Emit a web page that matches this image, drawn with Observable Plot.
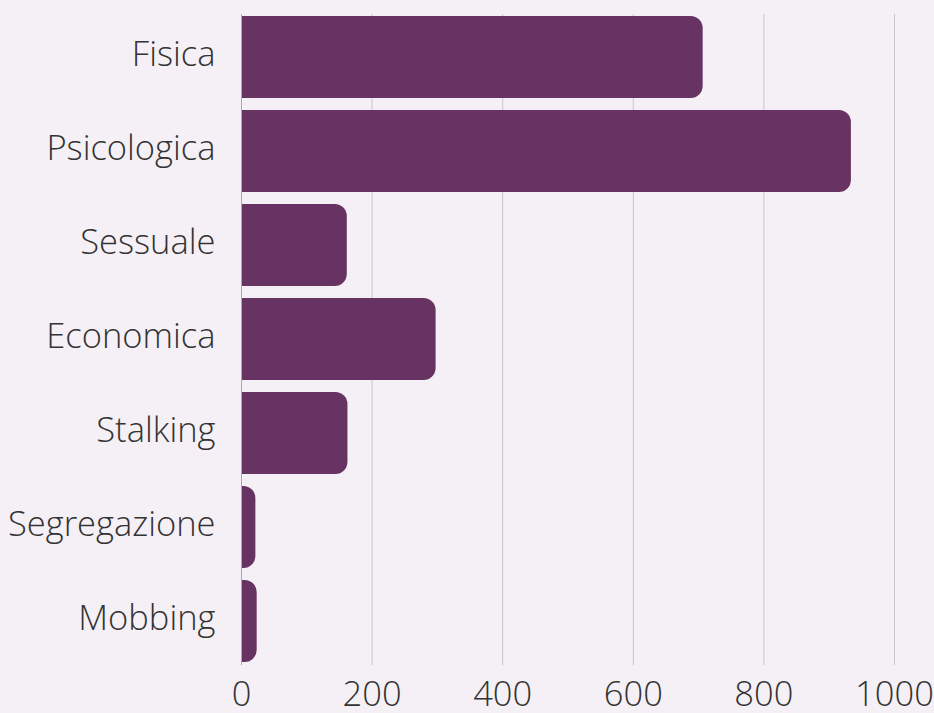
<!DOCTYPE html>
<html>
<head>
<meta charset="utf-8">
<script src="https://cdn.jsdelivr.net/npm/d3@7"></script>
<script src="https://cdn.jsdelivr.net/npm/@observablehq/plot@0.6"></script>
<style>
  html, body { margin: 0; padding: 0; background: #f5f0f6; }
  #chart svg { display: block; }
</style>
</head>
<body>
<div id="chart"></div>
<script>
const categories = ["Fisica", "Psicologica", "Sessuale", "Economica", "Stalking", "Segregazione", "Mobbing"];
const values = [707, 934, 162, 298, 163, 22, 24];
const xTicks = [0, 200, 400, 600, 800, 1000];

const data = categories.map((c, i) => ({category: c, value: values[i]}));

const chart = Plot.plot({
  width: 934,
  height: 713,
  marginTop: 14,
  marginBottom: 48,
  marginLeft: 241,
  marginRight: 40,
  style: {
    background: "#f5f0f6",
    fontFamily: "'Open Sans', sans-serif",
    fontWeight: 300,
    fontSize: "34.5px",
    color: "#333",
    overflow: "visible"
  },
  x: {domain: [0, 1000], label: null},
  y: {domain: categories, label: null, paddingInner: 0.125, paddingOuter: 0},
  marks: [
    Plot.ruleX(xTicks, {stroke: "#c8c4ca", strokeWidth: 1}),
    Plot.barX(data, {x: "value", y: "category", fill: "#673363", rx: 12, insetLeft: -20, clip: "frame"}),
    Plot.ruleX([0], {stroke: "#aaa", strokeWidth: 1}),
    Plot.axisX({ticks: xTicks, tickFormat: "d", tickSize: 0, tickPadding: 16, label: null}),
    Plot.axisY({tickSize: 0, tickPadding: 26, dy: -3, label: null})
  ]
});
document.getElementById("chart").appendChild(chart);
</script>
</body>
</html>
